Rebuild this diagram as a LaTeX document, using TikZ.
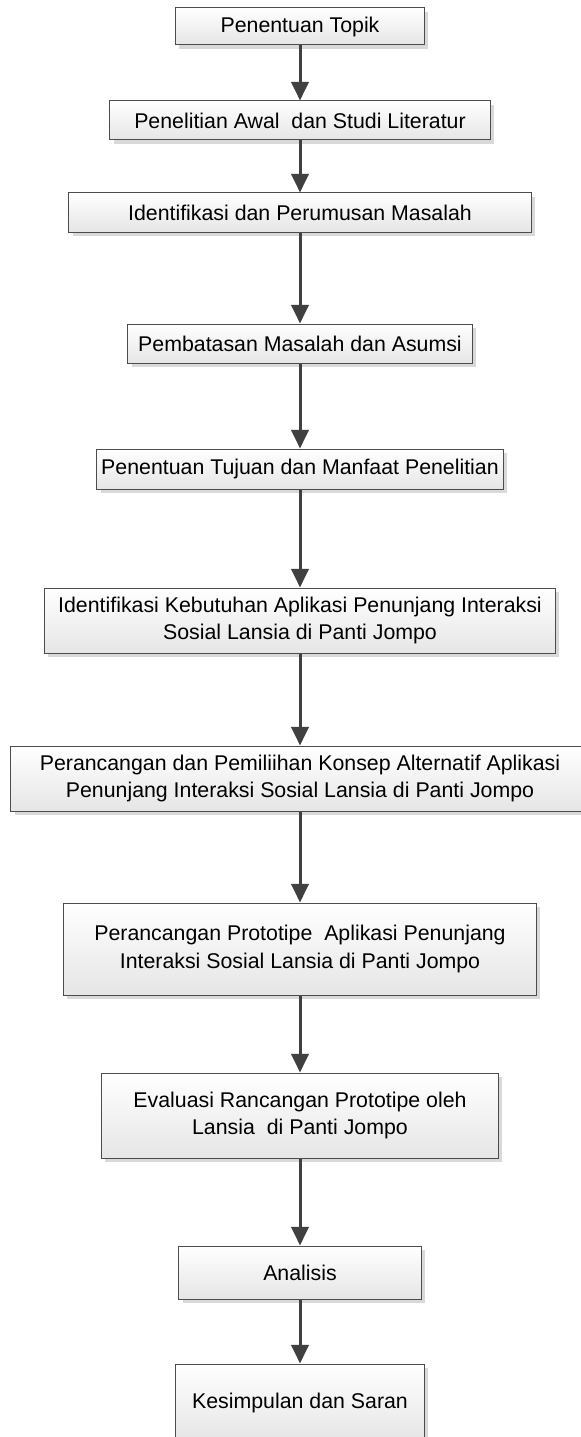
\documentclass[tikz,border=0pt]{standalone}
\usepackage{fontspec}
\setmainfont{Liberation Sans}
\usetikzlibrary{arrows.meta,shadows}
\begin{document}
\begin{tikzpicture}[x=0.03cm,y=-0.03cm]
        \tikzset{
          box/.style args={#1/#2}{draw=black!70,line width=0.3mm,top color=white,bottom color=black!10,
            minimum width=#1cm,minimum height=#2cm,align=center,inner sep=0mm,
            font=\fontsize{18.2}{23.5}\selectfont,
            drop shadow={shadow xshift=0.11cm,shadow yshift=-0.11cm,fill=black!15,opacity=1}},
          arr/.style={draw=black!75,line width=0.9mm,-{Triangle[length=5.6mm,width=5.2mm]}}
        }
        \useasboundingbox (0,0) rectangle (580,1437);
        %BOXES
        \node[box={7.47/1.11}] (topik) at (300,26.5) {Penentuan Topik};
        \node[box={11.4/1.17}] (awal) at (300,120.5) {Penelitian Awal~ dan Studi Literatur};
        \node[box={13.86/1.17}] (rumus) at (300,212.5) {Identifikasi dan Perumusan Masalah};
        \node[box={10.32/1.17}] (batas) at (300,343.5) {Pembatasan Masalah dan Asumsi};
        \node[box={12.18/1.2}] (tujuan) at (300,469) {Penentuan Tujuan dan Manfaat Penelitian};
        \node[box={15.33/1.95}] (butuh) at (300,620.5) {Identifikasi Kebutuhan Aplikasi Penunjang Interaksi\\Sosial Lansia di Panti Jompo};
        \node[box={17.34/1.95}] (konsep) at (300,778.5) {Perancangan dan Pemiliihan Konsep Alternatif Aplikasi\\Penunjang Interaksi Sosial Lansia di Panti Jompo};
        \node[box={14.19/2.76}] (proto) at (300,949) {Perancangan Prototipe~ Aplikasi Penunjang\\Interaksi Sosial Lansia di Panti Jompo};
        \node[box={11.91/2.55}] (eval) at (300,1115.5) {Evaluasi Rancangan Prototipe oleh\\Lansia~ di Panti Jompo};
        \node[box={7.26/1.59}] (analisis) at (300,1272.5) {Analisis};
        \node[box={7.44/2.34}] (simpul) at (300,1403) {Kesimpulan dan Saran};
        %ARROWS
        \draw[arr] (topik) -- (awal);
        \draw[arr] (awal) -- (rumus);
        \draw[arr] (rumus) -- (batas);
        \draw[arr] (batas) -- (tujuan);
        \draw[arr] (tujuan) -- (butuh);
        \draw[arr] (butuh) -- (konsep);
        \draw[arr] (konsep) -- (proto);
        \draw[arr] (proto) -- (eval);
        \draw[arr] (eval) -- (analisis);
        \draw[arr] (analisis) -- (simpul);
    \end{tikzpicture}
\end{document}
